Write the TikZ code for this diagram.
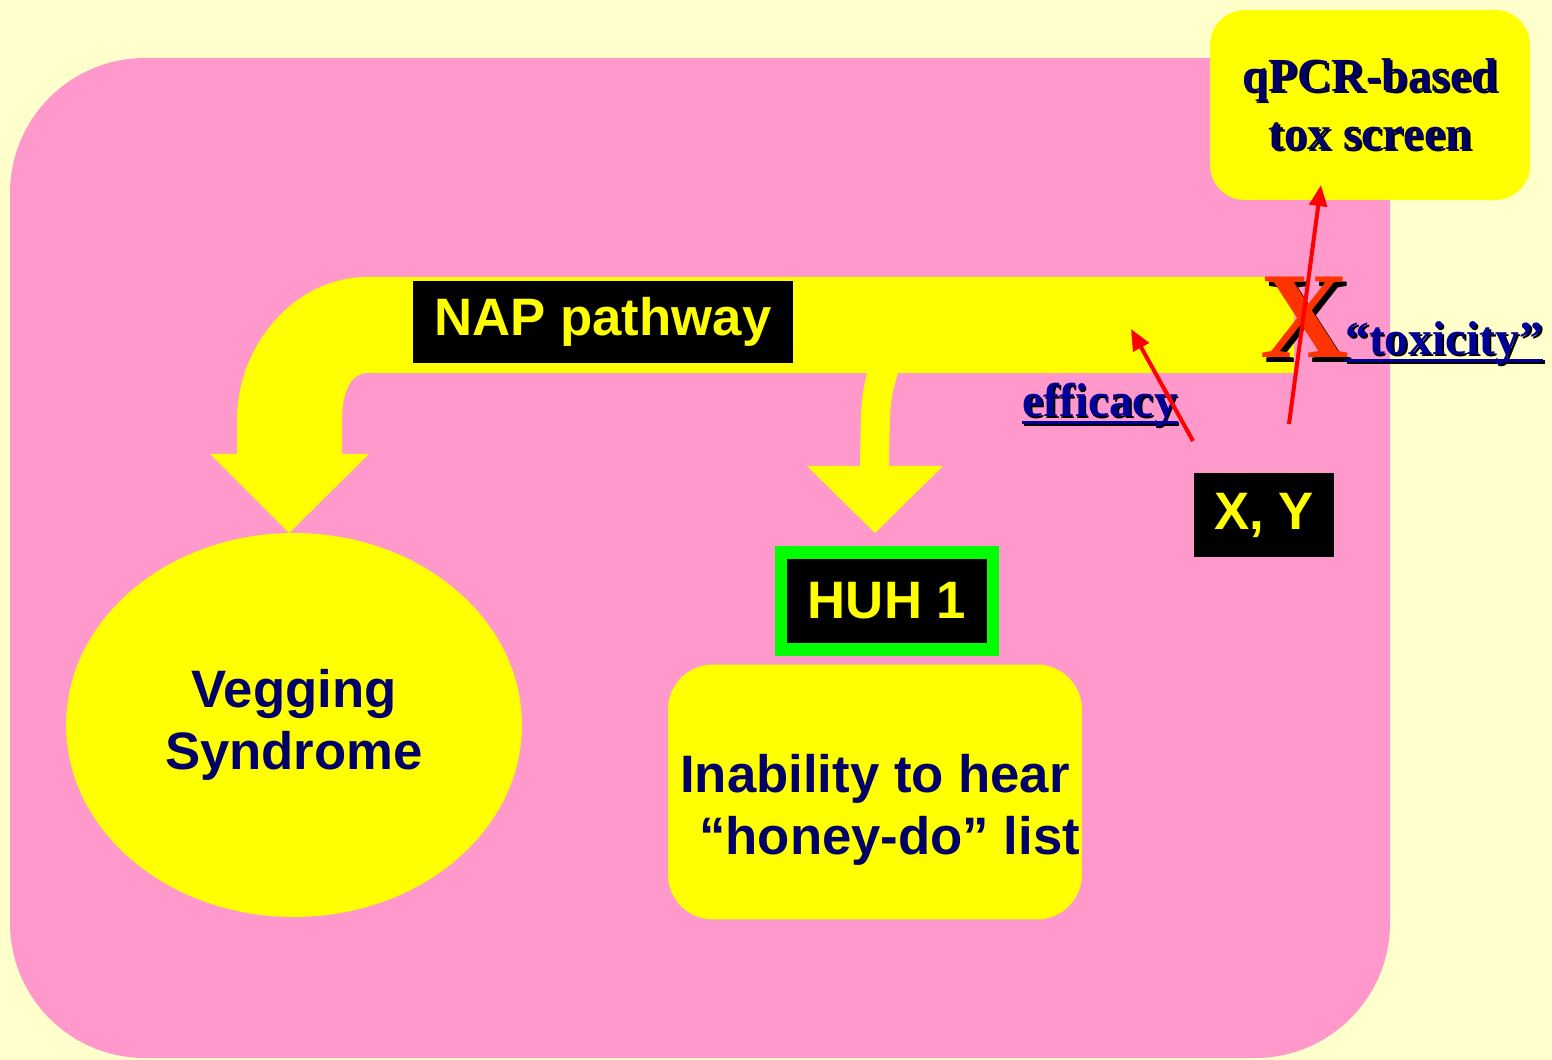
\documentclass[tikz,border=0pt]{standalone}
\usepackage{fontspec}
\setmainfont{Liberation Serif}
\setsansfont{Liberation Sans}
\usetikzlibrary{shapes.geometric, arrows.meta}

\definecolor{paper}{HTML}{FFFFCC}
\definecolor{pinkbg}{HTML}{FF99CC}
\definecolor{hiyellow}{HTML}{FFFF00}
\definecolor{navy}{HTML}{000066}
\definecolor{linkblue}{HTML}{000099}
\definecolor{xorange}{HTML}{FF3300}
\definecolor{boxgreen}{HTML}{00FF00}

% text with a dark drop shadow
\newcommand\shad[2][1pt]{\makebox[0pt][l]{\kern#1\raisebox{-#1}{\color{black}#2}}#2}
% underline at fixed depth, through descenders
\newcommand\undl[1]{\setbox0\hbox{#1}\rlap{\rule[-4pt]{\wd0}{2pt}}\box0}
\newcommand\bigsans{\fontsize{30}{35}\selectfont\sffamily\bfseries}
\newcommand\bigserif{\fontsize{27}{33}\selectfont\rmfamily\bfseries}

\tikzset{
  blackbox/.style={fill=black, text=hiyellow, font=\bigsans, inner sep=0pt},
  softbox/.style={fill=hiyellow, text=navy, font=\bigsans, align=center, inner sep=0pt},
  linktext/.style={text=linkblue, font=\bigserif, inner sep=0pt, anchor=base west},
  redarrow/.style={red, line width=2.3pt, -{Triangle[length=12pt,width=10pt]}}
}

\begin{document}
\begin{tikzpicture}[x=0.02cm, y=-0.02cm]
  \useasboundingbox (0,0) rectangle (1552,1060);
  \fill[paper] (0,0) rectangle (1552,1060);
  \fill[pinkbg, rounded corners=2.7cm] (10,58) rectangle (1390,1058);

  % the bent pathway arrow
  \fill[hiyellow] (1294,277) -- (367,277)
    .. controls (295,277) and (237,345) .. (237,420) -- (237,454)
    -- (210,454) -- (289,533) -- (369,454) -- (342,454) -- (342,420)
    .. controls (342,390) and (352,373) .. (367,373)
    -- (867,373) .. controls (861,400) .. (860,466) -- (807,466) -- (875,533) -- (943,466)
    -- (889,466) .. controls (890,400) .. (898,373) -- (1294,373) -- cycle;

  \node[blackbox, minimum width=7.6cm, minimum height=1.66cm] (nap) at (603,322) {\raisebox{-3pt}{NAP pathway}};
  \node[softbox, ellipse, minimum width=9.12cm, minimum height=7.68cm] (veg) at (294,725) {Vegging\\Syndrome};
  \node[blackbox, draw=boxgreen, line width=7pt, minimum width=4.24cm, minimum height=1.94cm] (huh) at (887,601) {HUH 1};
  \node[softbox, rounded corners=0.9cm, minimum width=8.28cm, minimum height=5.1cm] (hear) at (875,792) {\rule{0pt}{42pt}Inability to hear\ \\\ \ “honey-do” list};
  \node[blackbox, minimum width=2.8cm, minimum height=1.68cm] (xy) at (1264,515) {X, Y};
  \node[softbox, rounded corners=0.7cm, font=\bigserif, minimum width=6.4cm, minimum height=3.8cm] (tox) at (1370,105) {\shad{qPCR-based}\\\shad{tox screen}};

  \node[text=xorange, font=\fontsize{70}{70}\selectfont\rmfamily\bfseries, inner sep=0pt, anchor=base west] (cross) at (1260,358) {\shad[2.5pt]{X}};
  \node[linktext] (eff) at (1022,417) {\shad{\undl{efficacy}}};
  \node[linktext] (toxic) at (1345,355) {\shad{\undl{“toxicity”}}};

  \coordinate (effstart) at (1193,441);
  \coordinate (effend) at (1131,329);
  \coordinate (toxstart) at (1289,424);
  \coordinate (toxend) at (1321,185);
  \draw[redarrow] (effstart) -- (effend);
  \draw[redarrow] (toxstart) -- (toxend);
\end{tikzpicture}
\end{document}
